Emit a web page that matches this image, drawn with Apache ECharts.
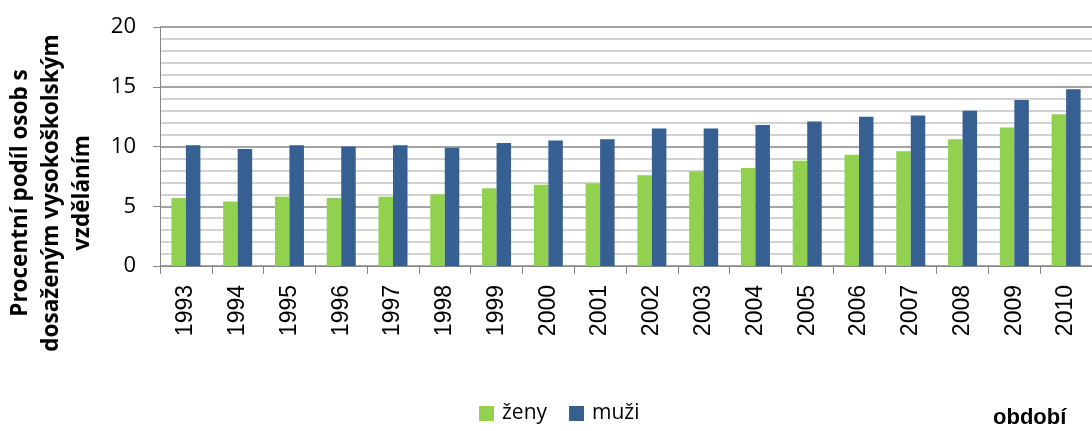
<!DOCTYPE html>
<html>
<head>
<meta charset="utf-8">
<script src="https://cdn.jsdelivr.net/npm/echarts@6/dist/echarts.min.js"></script>
<style>
  html, body { margin: 0; padding: 0; background: #fff; }
  #chart { width: 1092px; height: 431px; }
</style>
</head>
<body>
<div id="chart"></div>
<script>
// roky (kategorie osy x)
var years = ['1993', '1994', '1995', '1996', '1997', '1998', '1999', '2000', '2001',
             '2002', '2003', '2004', '2005', '2006', '2007', '2008', '2009', '2010'];
// procentní podíl - ženy
var zeny = [5.7, 5.4, 5.8, 5.7, 5.8, 6.0, 6.5, 6.8, 6.9,
            7.6, 7.9, 8.2, 8.8, 9.3, 9.6, 10.6, 11.6, 12.7];
// procentní podíl - muži
var muzi = [10.1, 9.8, 10.1, 10.0, 10.1, 9.9, 10.3, 10.5, 10.6,
            11.5, 11.5, 11.8, 12.1, 12.5, 12.6, 13.0, 13.9, 14.8];
var seriesNames = ['ženy', 'muži'];
var yTitle = 'Procentní podíl osob s\ndosaženým vysokoškolským\nvzděláním';
var xTitle = 'období';

var narrow = '"Liberation Sans Narrow", "Liberation Sans", sans-serif';
var chart = echarts.init(document.getElementById('chart'));
var option = {
    animation: false,
    textStyle: { fontFamily: '"Open Sans", sans-serif' },
    grid: { left: 160, right: -4, top: 27, bottom: 165 },
    legend: {
        data: seriesNames,
        left: 479, top: 403, padding: 0,
        icon: 'rect', itemWidth: 15, itemHeight: 15, itemGap: 22,
        textStyle: { fontSize: 21, color: '#000', padding: [0, 0, 0, 3] }
    },
    xAxis: {
        type: 'category',
        data: years,
        axisLine: { lineStyle: { color: '#868686', width: 1 } },
        axisTick: { show: true, length: 8, lineStyle: { color: '#868686' } },
        axisLabel: { rotate: 90, margin: 19, fontSize: 23, color: '#000', fontFamily: narrow }
    },
    yAxis: {
        type: 'value',
        min: 0, max: 20, interval: 5,
        axisLine: { show: true, lineStyle: { color: '#868686' } },
        axisTick: { show: true, length: 7, lineStyle: { color: '#868686' } },
        axisLabel: { margin: 24, fontSize: 22, color: '#000' },
        splitLine: { lineStyle: { color: '#868686', width: 1.5 } },
        minorTick: { show: false, splitNumber: 5 },
        minorSplitLine: { show: true, lineStyle: { color: '#c4c4c4', width: 1.5 } }
    },
    series: [
        { name: seriesNames[0], type: 'bar', data: zeny, barWidth: 14.5, barGap: '0%',
          itemStyle: { color: '#92d050' } },
        { name: seriesNames[1], type: 'bar', data: muzi, barWidth: 14.5, barGap: '0%',
          itemStyle: { color: '#365f92' } }
    ],
    graphic: [
        {
            type: 'text', x: 52, y: 193, rotation: Math.PI / 2,
            style: { text: yTitle, fontSize: 22.5, fontWeight: 'bold', lineHeight: 31,
                     fontFamily: '"Open Sans", sans-serif',
                     align: 'center', verticalAlign: 'middle', fill: '#000' }
        },
        {
            type: 'text', left: 993, top: 407,
            style: { text: xTitle, fontSize: 22, fontWeight: 'bold',
                     fontFamily: narrow, fill: '#000' }
        }
    ]
};
chart.setOption(option);
</script>
</body>
</html>
